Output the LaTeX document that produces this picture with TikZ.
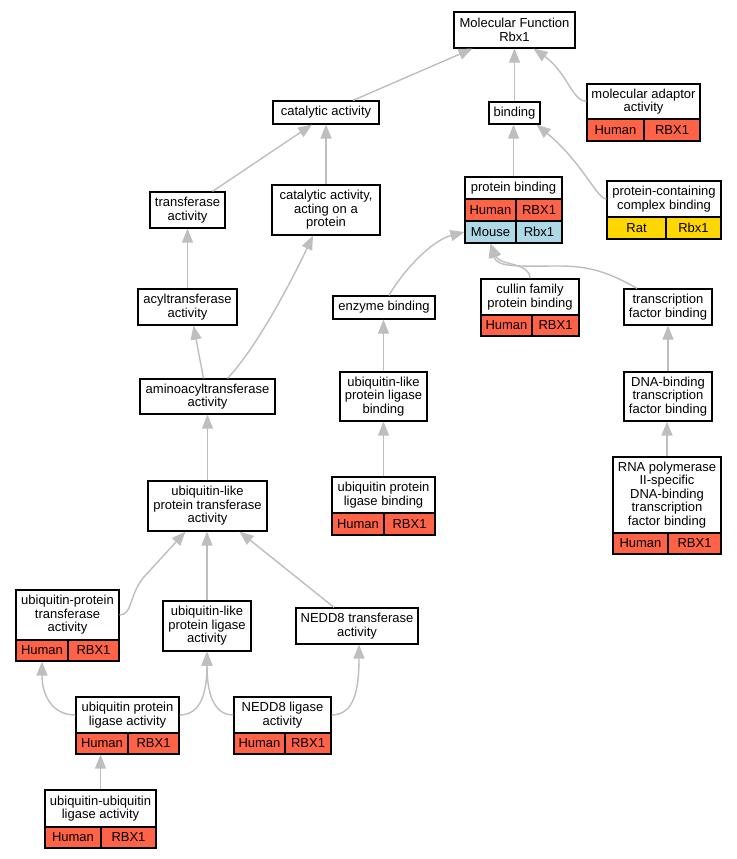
\documentclass[tikz,border=0pt]{standalone}
\usepackage{fontspec}
\setmainfont{Liberation Sans}
\usetikzlibrary{arrows.meta}
\definecolor{hum}{HTML}{FF6347}
\definecolor{mou}{HTML}{ADD8E6}
\definecolor{rat}{HTML}{FFD700}
\definecolor{edgec}{RGB}{190,190,190}
\tikzset{
  gobox/.style={draw=black, line width=1.2pt, inner sep=0pt, align=center,
    font=\fontsize{13}{13.4}\selectfont},
  edge/.style={draw=edgec, line width=1.4pt, -{Triangle[width=11pt,length=14pt]}},
}
\newcommand\gob[7][white]{%
  \pgfmathsetmacro\gcx{(#3+#5)/2}\pgfmathsetmacro\gcy{(#4+#6)/2}%
  \pgfmathsetmacro\gww{#5-#3}\pgfmathsetmacro\ghh{#6-#4}%
  \node[gobox, fill=#1, minimum width=\gww pt, minimum height=\ghh pt] (#2) at (\gcx,\gcy) {#7};}
\newcommand\spr[9]{\gob[#7]{#1l}{#2}{#5}{#3}{#6}{#8}\gob[#7]{#1r}{#3}{#5}{#4}{#6}{#9}}
\begin{document}
\begin{tikzpicture}[x=1pt,y=-1pt]
\useasboundingbox[fill=white] (0,0) rectangle (736,859);
% nodes
\gob{mf}{454}{12}{575}{48}{Molecular Function\\Rbx1}
\gob{bind}{489}{102}{540}{124}{binding}
\gob{adt}{587}{84}{700}{119}{molecular adaptor\\activity}
\spr{adt}{587}{644}{700}{119}{141}{hum}{Human}{RBX1}
\gob{pb}{465}{177}{562}{199}{protein binding}
\spr{pbh}{465}{516}{562}{199}{221}{hum}{Human}{RBX1}
\spr{pbm}{465}{516}{562}{221}{243}{mou}{Mouse}{Rbx1}
\gob{cpx}{607}{181}{721}{217}{protein-containing\\complex binding}
\spr{cpx}{607}{666}{721}{217}{239}{rat}{Rat}{Rbx1}
\gob{cat}{273}{101}{379}{124}{catalytic activity}
\gob{tr}{150}{192}{225}{228}{transferase\\activity}
\gob{cp}{272}{185}{380}{235}{catalytic activity,\\acting on a\\protein}
\gob{acyl}{138}{289}{237}{325}{acyltransferase\\activity}
\gob{amino}{140}{379}{275}{414}{aminoacyltransferase\\activity}
\gob{enz}{333}{296}{435}{319}{enzyme binding}
\gob{ubllb}{340}{372}{427}{421}{ubiquitin-like\\protein ligase\\binding}
\gob{uplb}{332}{477}{435}{513}{ubiquitin protein\\ligase binding}
\spr{uplb}{332}{384}{435}{513}{535}{hum}{Human}{RBX1}
\gob{cul}{481}{279}{579}{315}{cullin family\\protein binding}
\spr{cul}{481}{532}{579}{315}{336}{hum}{Human}{RBX1}
\gob{tfb}{624}{289}{712}{325}{transcription\\factor binding}
\gob{dtfb}{624}{372}{712}{421}{DNA-binding\\transcription\\factor binding}
\gob{rnap}{613}{457}{721}{533}{RNA polymerase\\II-specific\\DNA-binding\\transcription\\factor binding}
\spr{rnap}{613}{668}{721}{533}{554}{hum}{Human}{RBX1}
\gob{ubltr}{148}{481}{267}{531}{ubiquitin-like\\protein transferase\\activity}
\gob{uptr}{16}{590}{119}{640}{ubiquitin-protein\\transferase\\activity}
\spr{uptr}{16}{68}{119}{640}{661}{hum}{Human}{RBX1}
\gob{ublla}{163}{601}{251}{651}{ubiquitin-like\\protein ligase\\activity}
\gob{ntr}{296}{608}{418}{644}{NEDD8 transferase\\activity}
\gob{upla}{76}{697}{179}{733}{ubiquitin protein\\ligase activity}
\spr{upla}{76}{128}{179}{733}{754}{hum}{Human}{RBX1}
\gob{nla}{234}{697}{331}{733}{NEDD8 ligase\\activity}
\spr{nla}{234}{285}{331}{733}{754}{hum}{Human}{RBX1}
\gob{uula}{45}{790}{156}{827}{ubiquitin-ubiquitin\\ligase activity}
\spr{uula}{45}{101}{156}{827}{848}{hum}{Human}{RBX1}
% edges
\draw[edge] ([xshift=27pt]cat.north) -- ([xshift=-42pt]mf.south);
\draw[edge] (bind.north) -- (mf.south);
\draw[edge] (adt.west) .. controls (572,101) and (567,72) .. ([xshift=19pt]mf.south);
\draw[edge] (pb.north) -- (pb.north |- bind.south);
\draw[edge] (cpx.west) .. controls (597,199) and (582,162) .. ([xshift=22pt]bind.south);
\draw[edge] ([xshift=25pt]tr.north) -- ([xshift=-14pt]cat.south);
\draw[edge] (cp.north) -- (cat.south);
\draw[edge] (acyl.north) -- (tr.south);
\draw[edge] ([xshift=-4pt]amino.north) -- ([xshift=6pt]acyl.south);
\draw[edge] ([xshift=20pt]amino.north) .. controls (258,346) and (293,278) .. ([xshift=-13pt]cp.south);
\draw[edge] ([xshift=5pt]enz.north) .. controls (401,274) and (430,241) .. (pbml.west);
\draw[edge] (ubllb.north) -- (ubllb.north |- enz.south);
\draw[edge] (uplb.north) -- (uplb.north |- ubllb.south);
\draw[edge] (cul.north) .. controls (530,262) and (500,266) .. (pbml.south);
\draw[edge] ([xshift=-31pt]tfb.north) .. controls (610,273) and (590,266) .. (560,266) .. controls (520,266) and (497,268) .. (pbml.south);
\draw[edge] (dtfb.north) -- (tfb.south);
\draw[edge] (rnap.north) -- (rnap.north |- dtfb.south);
\draw[edge] (ubltr.north) -- (amino.south);
\draw[edge] (uptr.east) .. controls (133,614) and (128,598) .. (143,578) -- ([xshift=-22pt]ubltr.south);
\draw[edge] (ublla.north) -- (ublla.north |- ubltr.south);
\draw[edge] ([xshift=-23pt]ntr.north) -- ([xshift=32pt]ubltr.south);
\draw[edge] (upla.west) .. controls (52,715) and (42,695) .. (uptrl.south);
\draw[edge] (upla.east) .. controls (202,715) and (207,690) .. (ublla.south);
\draw[edge] (nla.west) .. controls (212,715) and (207,690) .. (ublla.south);
\draw[edge] (nla.east) .. controls (354,715) and (359,690) .. ([xshift=2pt]ntr.south);
\draw[edge] (uula.north) -- (uula.north |- uplal.south);
\end{tikzpicture}
\end{document}
